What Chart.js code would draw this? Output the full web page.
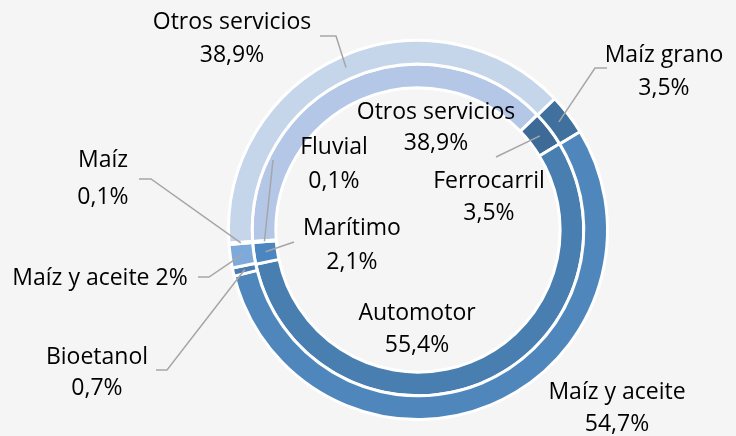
<!DOCTYPE html>
<html lang="es">
<head>
<meta charset="utf-8">
<title>Participación por modo de transporte</title>
<script src="https://cdn.jsdelivr.net/npm/chart.js@4.4.0/dist/chart.umd.min.js"></script>
<style>
    html, body { margin: 0; padding: 0; background: #f5f5f5; }
    #wrap { width: 736px; height: 436px; }
</style>
</head>
<body>
<div id="wrap"><canvas id="donut" width="736" height="436"></canvas></div>
<script>
// Anillo exterior: productos
const outerLabels = ['Otros servicios', 'Maíz grano', 'Maíz y aceite', 'Bioetanol', 'Maíz y aceite', 'Maíz'];
const outerValues = [38.9, 3.5, 54.7, 0.7, 2, 0.1];
const outerColors = ['#c5d5ea', '#40709d', '#4f87bc', '#4a7bb2', '#7eaadb', '#6d9bcf'];

// Anillo interior: modos de transporte
const innerLabels = ['Otros servicios', 'Ferrocarril', 'Automotor', 'Marítimo', 'Fluvial'];
const innerValues = [38.9, 3.5, 55.4, 2.1, 0.1];
const innerColors = ['#b4c7e7', '#3e6a97', '#487eb0', '#4b86c1', '#5b8fc8'];

// Posición de las etiquetas (x centro, y de cada renglón) y quiebre de la línea guía
const outerPlaces = [
    { x: 232, y: [22, 55], leader: [[320, 36], [336, 36]] },
    { x: 664, y: [55, 88], leader: [[607, 68], [595, 68]] },
    { x: 617, y: [392, 424] },
    { x: 97, y: [357, 388], leader: [[156, 370], [167, 370]] },
    { x: 100, y: [278], inline: true, leader: [[198, 277], [209, 277]] },
    { x: 103, y: [160, 197], leader: [[139, 179], [151, 179]] }
];
const innerPlaces = [
    { x: 436, y: [112, 143] },
    { x: 489, y: [181, 213], leader: [[496, 157]] },
    { x: 417, y: [313, 345] },
    { x: 352, y: [228, 262], leader: [[294, 242]] },
    { x: 334, y: [147, 181], leader: [[273, 160]] }
];

function fmtPct(v) {
    return (Number.isInteger(v) ? String(v) : v.toFixed(1).replace('.', ',')) + '%';
}

// Etiquetas con líneas guía, estilo Excel
const sliceLabels = {
    id: 'sliceLabels',
    afterDatasetsDraw(chart) {
        const ctx = chart.ctx;
        ctx.save();
        ctx.font = '23px "Open Sans", Lato, sans-serif';
        ctx.textAlign = 'center';
        ctx.textBaseline = 'middle';
        [[outerPlaces, outerLabels, outerValues], [innerPlaces, innerLabels, innerValues]].forEach(([places, names, vals], ds) => {
            const arcs = chart.getDatasetMeta(ds).data;
            places.forEach((p, i) => {
                if (p.leader) {
                    const tip = arcs[i].tooltipPosition();
                    ctx.strokeStyle = '#a6a6a6';
                    ctx.lineWidth = 1.5;
                    ctx.beginPath();
                    ctx.moveTo(p.leader[0][0], p.leader[0][1]);
                    p.leader.slice(1).forEach(pt => ctx.lineTo(pt[0], pt[1]));
                    ctx.lineTo(tip.x, tip.y);
                    ctx.stroke();
                }
                ctx.fillStyle = '#000000';
                if (p.inline) {
                    ctx.fillText(names[i] + ' ' + fmtPct(vals[i]), p.x, p.y[0]);
                } else {
                    ctx.fillText(names[i], p.x, p.y[0]);
                    ctx.fillText(fmtPct(vals[i]), p.x, p.y[1]);
                }
            });
        });
        ctx.restore();
    }
};

new Chart(document.getElementById('donut'), {
    type: 'doughnut',
    data: {
        labels: outerLabels,
        datasets: [
            {
                data: outerValues,
                backgroundColor: outerColors,
                borderColor: '#ffffff',
                borderWidth: 3
            },
            {
                data: innerValues,
                backgroundColor: innerColors,
                borderColor: '#ffffff',
                borderWidth: 3
            }
        ]
    },
    options: {
        responsive: false,
        animation: false,
        rotation: 266,
        cutout: '75%',
        layout: {
            padding: { left: 227, right: 127, top: 39, bottom: 15 }
        },
        plugins: {
            legend: { display: false },
            tooltip: { enabled: false }
        }
    },
    plugins: [sliceLabels]
});
</script>
</body>
</html>
